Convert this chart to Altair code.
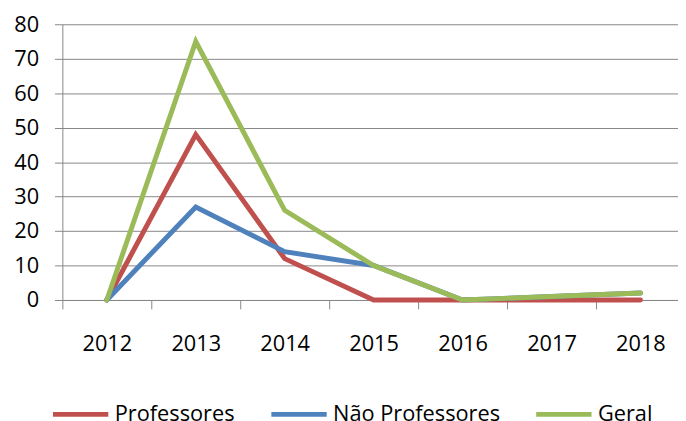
import altair as alt
import pandas as pd

years = [2012, 2013, 2014, 2015, 2016, 2017, 2018]
professores = [0, 48, 12, 0, 0, 0, 0]
nao_professores = [0, 27, 14, 10, 0, 1, 2]
geral = [0, 75, 26, 10, 0, 1, 2]

series_names = ["Professores", "Não Professores", "Geral"]
series_colors = ["#C0504D", "#4F81BD", "#9BBB59"]
boundaries = [2011.5, 2012.5, 2013.5, 2014.5, 2015.5, 2016.5, 2017.5]

rows = []
for name, vals in zip(series_names, [professores, nao_professores, geral]):
    for y, v in zip(years, vals):
        rows.append({"ano": y, "valor": v, "serie": name})
df = pd.DataFrame(rows)

FONT = "Open Sans"
GRAY = "#868686"
W, H = 623, 279

x_scale = alt.Scale(domain=[2011.5, 2011.5 + W / 90.0], nice=False, zero=False)

lines = alt.Chart(df).mark_line(strokeWidth=5, strokeCap="round").encode(
    x=alt.X(
        "ano:Q",
        scale=x_scale,
        axis=alt.Axis(
            values=boundaries,
            labelExpr="format(datum.value + 0.5, 'd')",
            labelOffset=45,
            title=None,
            grid=False,
            domainColor=GRAY,
            tickColor=GRAY,
            tickSize=9,
            labelPadding=25,
            labelFont=FONT,
            labelFontSize=22,
            labelColor="black",
            labelOverlap=False,
            labelBound=False,
            labelFlush=False,
        ),
    ),
    y=alt.Y(
        "valor:Q",
        scale=alt.Scale(domain=[0, 80], nice=False),
        axis=alt.Axis(
            values=[0, 10, 20, 30, 40, 50, 60, 70, 80],
            title=None,
            grid=True,
            gridColor=GRAY,
            gridWidth=1,
            domainColor=GRAY,
            tickColor=GRAY,
            tickSize=8,
            labelPadding=16,
            labelFont=FONT,
            labelFontSize=22,
            labelColor="black",
        ),
    ),
    color=alt.Color(
        "serie:N",
        scale=alt.Scale(domain=series_names, range=series_colors),
        sort=series_names,
        legend=alt.Legend(
            title=None,
            orient="none",
            direction="horizontal",
            legendX=-12,
            legendY=364,
            symbolType="stroke",
            symbolSize=3136,
            symbolStrokeWidth=5,
            labelFont=FONT,
            labelFontSize=22,
            labelColor="black",
            labelOffset=4,
            labelLimit=400,
            columnPadding=26,
        ),
    ),
)

chart = lines.properties(
    width=W,
    height=H,
    autosize=alt.AutoSizeParams(type="none"),
    padding={"left": 55, "top": 14, "right": 0, "bottom": 120},
    background="white",
).configure_view(strokeWidth=0)

chart.save("out.html", embed_options={"renderer": "svg", "actions": False})
